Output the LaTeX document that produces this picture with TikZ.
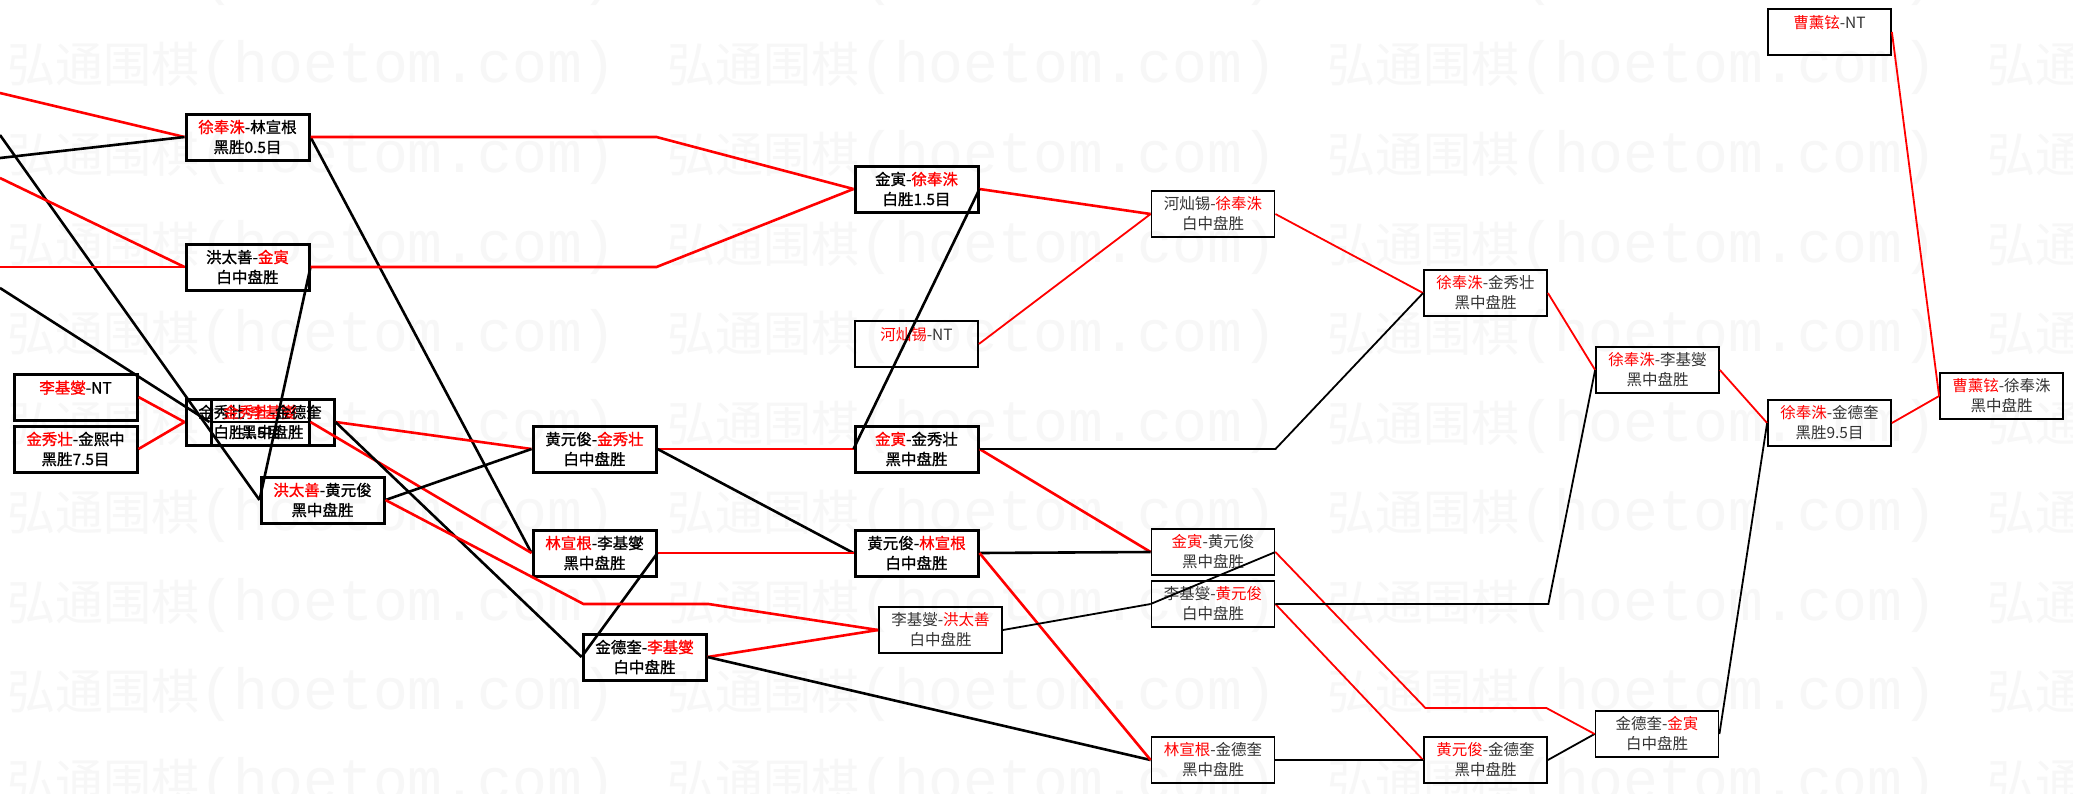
\documentclass[tikz,border=0pt]{standalone}
\usepackage{fontspec}
\setmainfont{Noto Sans CJK SC}
\newfontfamily\gamefont{Noto Sans CJK SC}[FakeBold=1]
\newfontfamily\wmlatin{Liberation Mono}
\newcommand{\rn}[1]{\textcolor{red}{#1}}
\newcommand{\wmark}{{\fontsize{48}{48}\selectfont 弘通围棋}{\wmlatin\fontsize{58}{58}\selectfont(hoetom.com)}}

\begin{document}
\begin{tikzpicture}[x=1pt, y=-1pt, game node/.style={draw, line width=3pt, minimum width=123pt, minimum height=46pt, inner sep=0pt, align=center, font=\gamefont\fontsize{15.5}{20}\selectfont}, late node/.style={game node, line width=1.8pt, text=black!80, font=\fontsize{15.5}{20}\selectfont}, win/.style={draw=red, line width=2.6pt}, lose/.style={draw=black, line width=2.6pt}, win2/.style={draw=red, line width=1.8pt}, lose2/.style={draw=black, line width=1.8pt}] % x,y in pixels
\useasboundingbox[fill=white] (0,0) rectangle (2073,793);
\foreach \r in {-1,...,8}
  \foreach \c in {0,...,3}
    \node[anchor=west, inner sep=0pt, text=black!3] (wm-\r-\c) at ({7+660*\c},{68+89.5*\r}) {\wmark};

\node[game node] (1) at (247.5,137) {\rn{徐奉洙}-林宣根\\黑胜0.5目};
\node[game node] (2) at (247.5,267) {洪太善-\rn{金寅}\\白中盘胜};
\node[game node] (3) at (75.5,397) {\rn{李基燮}-NT\\\mbox{}};
\node[game node] (4) at (75.5,449) {\rn{金秀壮}-金熙中\\黑胜7.5目};
\node[game node] (5) at (247.5,422) {金秀壮-\rn{李基燮}\\白胜1.5目};
\node[game node] (6) at (272.5,422) {\rn{金秀壮}-金德奎\\黑中盘胜};
\node[game node] (7) at (322.5,500) {\rn{洪太善}-黄元俊\\黑中盘胜};
\node[game node] (8) at (594.5,449) {黄元俊-\rn{金秀壮}\\白中盘胜};
\node[game node] (9) at (594.5,553) {\rn{林宣根}-李基燮\\黑中盘胜};
\node[game node] (10) at (644.5,657) {金德奎-\rn{李基燮}\\白中盘胜};
\node[game node] (11) at (916.5,189) {金寅-\rn{徐奉洙}\\白胜1.5目};
\node[late node] (12) at (916.5,344) {\rn{河灿锡}-NT\\\mbox{}};
\node[game node] (13) at (916.5,449) {\rn{金寅}-金秀壮\\黑中盘胜};
\node[game node] (14) at (916.5,553) {黄元俊-\rn{林宣根}\\白中盘胜};
\node[late node] (15) at (940.5,630) {李基燮-\rn{洪太善}\\白中盘胜};
\node[late node] (16) at (1213,214) {河灿锡-\rn{徐奉洙}\\白中盘胜};
\node[late node] (17) at (1213,552) {\rn{金寅}-黄元俊\\黑中盘胜};
\node[late node] (18) at (1213,604) {李基燮-\rn{黄元俊}\\白中盘胜};
\node[late node] (19) at (1213,760) {\rn{林宣根}-金德奎\\黑中盘胜};
\node[late node] (20) at (1485.5,293) {\rn{徐奉洙}-金秀壮\\黑中盘胜};
\node[late node] (21) at (1485.5,760) {\rn{黄元俊}-金德奎\\黑中盘胜};
\node[late node] (22) at (1657.5,370) {\rn{徐奉洙}-李基燮\\黑中盘胜};
\node[late node] (23) at (1657,734) {金德奎-\rn{金寅}\\白中盘胜};
\node[late node] (24) at (1829.5,423) {\rn{徐奉洙}-金德奎\\黑胜9.5目};
\node[late node] (25) at (1829.5,32) {\rn{曹薰铉}-NT\\\mbox{}};
\node[late node] (26) at (2001.5,396) {\rn{曹薰铉}-徐奉洙\\黑中盘胜};

\coordinate (in1) at (0,93);
\coordinate (in2) at (0,158);
\coordinate (in3) at (0,135);
\coordinate (in4) at (0,178);
\coordinate (in5) at (0,267);
\coordinate (in6) at (0,288);

\path
(in1) edge[win] (1.west)
(in2) edge[lose] (1.west)
(in3) edge[lose] (7.west)
(in4) edge[win] (2.west)
(in5) edge[win] (2.west)
(in6) edge[lose] (6.west)

(1.east) edge[lose] (9.west)
(2.east) edge[lose] (7.west)
(3.east) edge[win] (5.west)
(4.east) edge[win] (5.west)
(5.east) edge[lose] (6.west)
(6.east) edge[win] (8.west)
(5.east) edge[win] (9.west)
(6.east) edge[lose] (10.west)
(7.east) edge[lose] (8.west)
(8.east) edge[win] (13.west)
(8.east) edge[lose] (14.west)
(9.east) edge[win] (14.west)
(9.east) edge[lose] (10.west)
(10.east) edge[win] (15.west)
(10.east) edge[lose] (19.west)

(11.east) edge[win] (16.west)
(11.east) edge[lose] (13.west)
(12.east) edge[win2] (16.west)
(13.east) edge[win] (17.west)
(14.east) edge[lose] (17.west)
(14.east) edge[win] (19.west)
(15.east) edge[lose2] (18.west)
(17.east) edge[lose2] (18.west)
(16.east) edge[win2] (20.west)
(18.east) edge[win2] (21.west)
(19.east) edge[lose2] (21.west)
(20.east) edge[win2] (22.west)
(21.east) edge[lose2] (23.west)
(22.east) edge[win2] (24.west)
(23.east) edge[lose2] (24.west)
(24.east) edge[win2] (26.west)
(25.east) edge[win2] (26.west);

\draw[win] (1.east) -- ++(346,0) -- (11.west);
\draw[win] (2.east) -- ++(346,0) -- (11.west);
\draw[win] (7.east) -- ++(198,104) -- ++(125,0) -- (15.west);
\draw[lose2] (13.east) -- ++(296,0) -- (20.west);
\draw[win2] (17.east) -- ++(150,156) -- ++(121,0) -- (23.west);
\draw[lose2] (18.east) -- ++(273,0) -- (22.west);

\end{tikzpicture}
\end{document}
